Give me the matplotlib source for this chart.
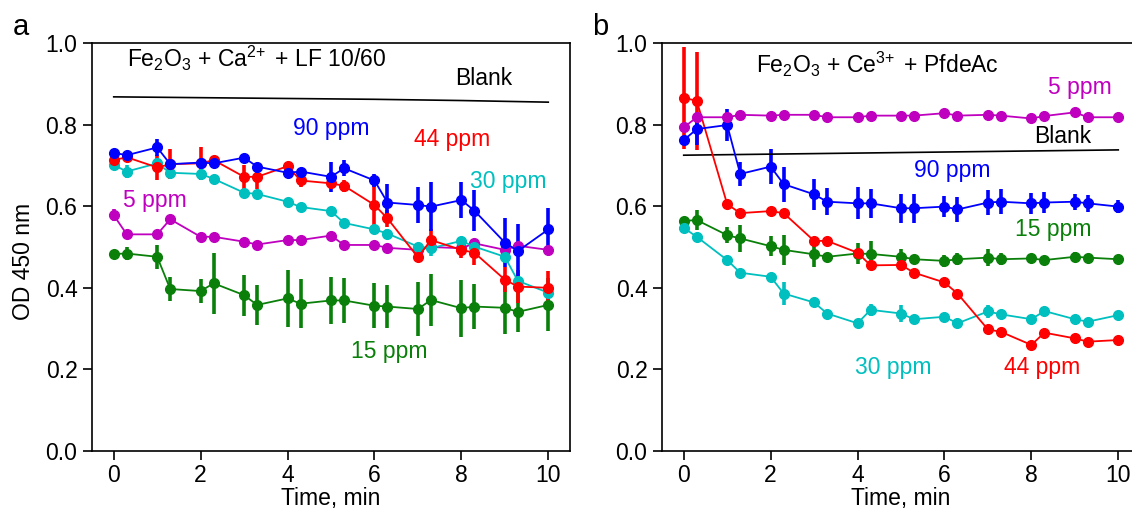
import matplotlib
matplotlib.use("Agg")
import matplotlib.pyplot as plt

plt.rcParams["font.family"] = ["Liberation Sans", "DejaVu Sans"]
plt.rcParams["mathtext.fontset"] = "custom"
plt.rcParams["mathtext.rm"] = "Liberation Sans"
plt.rcParams["mathtext.it"] = "Liberation Sans:italic"
plt.rcParams["mathtext.bf"] = "Liberation Sans:bold"

# 采样时间 (min)
times = [0, 0.3, 1, 1.3, 2, 2.3, 3, 3.3, 4, 4.3, 5, 5.3, 6, 6.3, 7, 7.3, 8, 8.3, 9, 9.3, 10]

# panel a: Fe2O3 + Ca2+ + LF 10/60
a_90 = [0.731, 0.725, 0.744, 0.703, 0.707, 0.705, 0.719, 0.697, 0.682, 0.685, 0.672,
        0.693, 0.663, 0.609, 0.603, 0.599, 0.615, 0.589, 0.511, 0.490, 0.543]
a_90_err = [0.008, 0.008, 0.02, 0.012, 0.01, 0.01, 0.008, 0.008, 0.008, 0.008, 0.037,
            0.02, 0.015, 0.045, 0.045, 0.06, 0.045, 0.05, 0.06, 0.067, 0.053]
a_44 = [0.713, 0.720, 0.695, 0.703, 0.705, 0.713, 0.672, 0.672, 0.698, 0.663, 0.656,
        0.650, 0.603, 0.570, 0.475, 0.517, 0.493, 0.486, 0.420, 0.403, 0.400]
a_44_err = [0.015, 0.01, 0.03, 0.037, 0.04, 0.01, 0.03, 0.03, 0.008, 0.015, 0.01,
            0.015, 0.063, 0.02, 0.01, 0.027, 0.02, 0.03, 0.03, 0.04, 0.04]
a_30 = [0.701, 0.685, 0.705, 0.682, 0.679, 0.667, 0.633, 0.630, 0.611, 0.598, 0.588,
        0.559, 0.543, 0.533, 0.501, 0.497, 0.515, 0.501, 0.476, 0.417, 0.388]
a_30_err = [0.01, 0.015, 0.01, 0.01, 0.008, 0.008, 0.008, 0.008, 0.008, 0.008, 0.008,
            0.008, 0.01, 0.01, 0.01, 0.02, 0.01, 0.01, 0.01, 0.01, 0.01]
a_5 = [0.578, 0.531, 0.531, 0.568, 0.525, 0.525, 0.513, 0.506, 0.517, 0.517, 0.528,
       0.505, 0.505, 0.498, 0.493, 0.500, 0.497, 0.509, 0.493, 0.503, 0.493]
a_5_err = [0.015, 0.006, 0.006, 0.006, 0.006, 0.006, 0.006, 0.006, 0.006, 0.006, 0.006,
           0.006, 0.006, 0.006, 0.006, 0.006, 0.006, 0.006, 0.006, 0.006, 0.006]
a_15 = [0.483, 0.484, 0.476, 0.397, 0.392, 0.411, 0.382, 0.358, 0.374, 0.361, 0.369,
        0.369, 0.356, 0.354, 0.348, 0.370, 0.350, 0.354, 0.351, 0.341, 0.358]
a_15_err = [0.01, 0.015, 0.03, 0.03, 0.03, 0.075, 0.05, 0.05, 0.07, 0.06, 0.057,
            0.055, 0.055, 0.053, 0.065, 0.063, 0.07, 0.055, 0.065, 0.05, 0.065]
a_blank_t = [0, 2, 4, 6, 8, 10]
a_blank = [0.868, 0.866, 0.864, 0.862, 0.859, 0.855]

# panel b: Fe2O3 + Ce3+ + PfdeAc
b_5 = [0.793, 0.818, 0.818, 0.824, 0.822, 0.824, 0.824, 0.818, 0.818, 0.822, 0.822,
       0.822, 0.828, 0.822, 0.824, 0.822, 0.815, 0.821, 0.830, 0.818, 0.818]
b_5_err = [0.006] * 21
b_90 = [0.762, 0.789, 0.799, 0.679, 0.697, 0.654, 0.629, 0.611, 0.607, 0.607, 0.595,
        0.595, 0.599, 0.592, 0.609, 0.611, 0.607, 0.609, 0.611, 0.607, 0.599]
b_90_err = [0.01, 0.039, 0.04, 0.03, 0.042, 0.043, 0.038, 0.033, 0.039, 0.035, 0.035,
            0.035, 0.025, 0.03, 0.03, 0.03, 0.025, 0.025, 0.02, 0.02, 0.015]
b_44 = [0.866, 0.858, 0.605, 0.583, 0.588, 0.583, 0.515, 0.515, 0.486, 0.455, 0.456,
        0.437, 0.413, 0.386, 0.298, 0.292, 0.260, 0.290, 0.276, 0.268, 0.272]
b_44_err = [0.125, 0.12, 0.01, 0.006, 0.006, 0.006, 0.006, 0.006, 0.006, 0.006, 0.006,
            0.006, 0.006, 0.006, 0.006, 0.006, 0.006, 0.006, 0.006, 0.006, 0.006]
b_15 = [0.564, 0.566, 0.529, 0.521, 0.502, 0.493, 0.482, 0.476, 0.484, 0.483, 0.476,
        0.470, 0.466, 0.470, 0.474, 0.470, 0.472, 0.468, 0.476, 0.474, 0.470]
b_15_err = [0.01, 0.025, 0.02, 0.033, 0.025, 0.037, 0.03, 0.01, 0.025, 0.032, 0.02,
            0.01, 0.015, 0.015, 0.02, 0.015, 0.012, 0.008, 0.012, 0.008, 0.008]
b_30 = [0.547, 0.525, 0.468, 0.437, 0.427, 0.386, 0.364, 0.337, 0.313, 0.346, 0.337,
        0.323, 0.329, 0.313, 0.342, 0.335, 0.323, 0.343, 0.323, 0.317, 0.333]
b_30_err = [0.008, 0.008, 0.008, 0.008, 0.008, 0.027, 0.008, 0.008, 0.008, 0.015, 0.02,
            0.008, 0.008, 0.008, 0.015, 0.008, 0.008, 0.008, 0.008, 0.008, 0.008]
b_blank_t = [0, 10]
b_blank = [0.725, 0.738]

BLUE = "#0000ff"
RED = "#ff0000"
CYAN = "#00bfbf"
MAGENTA = "#bf00bf"
GREEN = "#0a800a"
FS = 16.5

fig = plt.figure(figsize=(11.32, 5.14), dpi=100)
ax_a = fig.add_axes([92 / 1132, 1 - 451 / 514, 478 / 1132, 408 / 514])
ax_b = fig.add_axes([662 / 1132, 1 - 451 / 514, 478 / 1132, 408 / 514])


def series(ax, y, err, color):
    ax.errorbar(times, y, yerr=err, color=color, marker="o", ms=7, lw=1.3,
                elinewidth=2.6, capsize=0)


def style(ax):
    ax.set_xlim(-0.5, 10.5)
    ax.set_ylim(0, 1.0)
    ax.set_xticks(range(0, 11, 2))
    ax.set_yticks([0, 0.2, 0.4, 0.6, 0.8, 1.0])
    ax.set_yticklabels([f"{v:.1f}" for v in [0, 0.2, 0.4, 0.6, 0.8, 1.0]])
    ax.tick_params(direction="out", length=6.5, width=1.2, labelsize=FS, pad=4)
    ax.tick_params(axis="x", pad=2.5)
    for s in ax.spines.values():
        s.set_linewidth(1.2)
    ax.set_xlabel("Time, min", fontsize=FS, labelpad=0)


# panel a
series(ax_a, a_15, a_15_err, GREEN)
series(ax_a, a_5, a_5_err, MAGENTA)
series(ax_a, a_30, a_30_err, CYAN)
series(ax_a, a_44, a_44_err, RED)
series(ax_a, a_90, a_90_err, BLUE)
ax_a.plot(a_blank_t, a_blank, color="black", lw=1.2)
style(ax_a)
ax_a.set_ylabel("OD 450 nm", fontsize=FS)
ax_a.yaxis.set_label_coords(-0.12, 0.464)
ax_a.text(0.3, 0.941, r"Fe$_2$O$_3$ + Ca$^{2\!+}$ + LF 10/60", fontsize=FS, va="baseline")
ax_a.text(8.52, 0.897, "Blank", fontsize=FS, ha="center", va="baseline")
ax_a.text(5.0, 0.775, "90 ppm", color=BLUE, fontsize=FS, ha="center", va="baseline")
ax_a.text(7.78, 0.748, "44 ppm", color=RED, fontsize=FS, ha="center", va="baseline")
ax_a.text(9.08, 0.645, "30 ppm", color=CYAN, fontsize=FS, ha="center", va="baseline")
ax_a.text(0.95, 0.598, "5 ppm", color=MAGENTA, fontsize=FS, ha="center", va="baseline")
ax_a.text(6.35, 0.228, "15 ppm", color=GREEN, fontsize=FS, ha="center", va="baseline")

# panel b
series(ax_b, b_15, b_15_err, GREEN)
series(ax_b, b_30, b_30_err, CYAN)
series(ax_b, b_44, b_44_err, RED)
series(ax_b, b_90, b_90_err, BLUE)
series(ax_b, b_5, b_5_err, MAGENTA)
ax_b.plot(b_blank_t, b_blank, color="black", lw=1.2)
style(ax_b)
ax_b.text(1.66, 0.926, r"Fe$_2$O$_3$ + Ce$^{3\!+}$ + PfdeAc", fontsize=FS, va="baseline")
ax_b.text(9.12, 0.875, "5 ppm", color=MAGENTA, fontsize=FS, ha="center", va="baseline")
ax_b.text(8.71, 0.755, "Blank", fontsize=FS, ha="center", va="baseline")
ax_b.text(6.19, 0.672, "90 ppm", color=BLUE, fontsize=FS, ha="center", va="baseline")
ax_b.text(8.5, 0.527, "15 ppm", color=GREEN, fontsize=FS, ha="center", va="baseline")
ax_b.text(4.83, 0.189, "30 ppm", color=CYAN, fontsize=FS, ha="center", va="baseline")
ax_b.text(8.24, 0.189, "44 ppm", color=RED, fontsize=FS, ha="center", va="baseline")

fig.text(13 / 1132, 1 - 35 / 514, "a", fontsize=21, va="baseline")
fig.text(592 / 1132, 1 - 35 / 514, "b", fontsize=21, va="baseline")

fig.savefig("out.png", dpi=100)
